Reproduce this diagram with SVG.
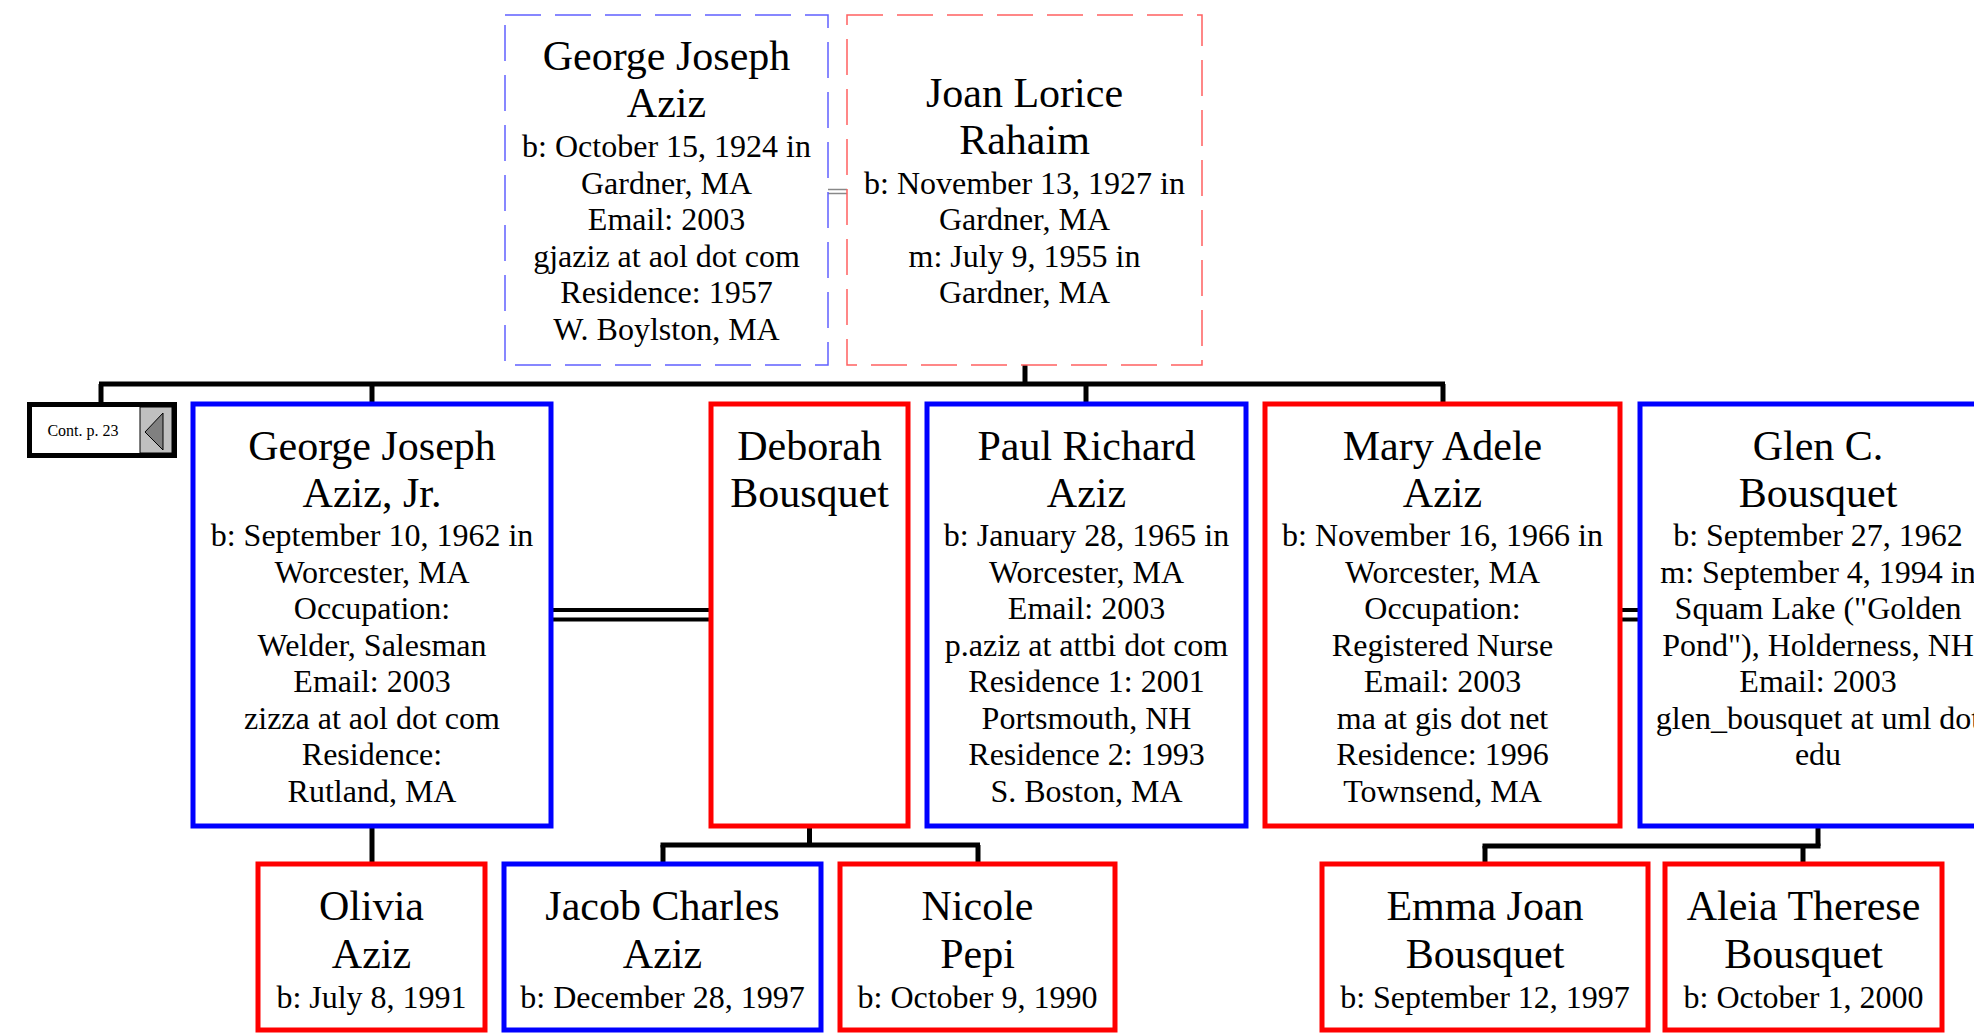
<svg xmlns="http://www.w3.org/2000/svg" width="1974" height="1033" viewBox="0 0 1974 1033">
<style>
text{font-family:"Liberation Serif","Times New Roman",serif;fill:#000;text-anchor:middle}
.n{font-size:42px}
.d{font-size:32px}
.m{fill:#fff;stroke:#0000ff;stroke-width:5}
.f{fill:#fff;stroke:#ff0000;stroke-width:5}
.dm{fill:#fff;stroke:#6060ff;stroke-width:1.5;stroke-dasharray:36 14}
.df{fill:#fff;stroke:#ff6060;stroke-width:1.5;stroke-dasharray:36 14}
.c{fill:none;stroke:#000;stroke-width:5}
.mar{fill:none;stroke:#000;stroke-width:4}
.mar0{fill:none;stroke:#888;stroke-width:1.5}
</style>
<rect width="1974" height="1033" fill="#fff"/>
<g id="connectors">
<line class="mar0" x1="828" y1="189.5" x2="847" y2="189.5"/>
<line class="mar0" x1="828" y1="193.5" x2="847" y2="193.5"/>
<polyline class="c" points="1025,365 1025,384"/>
<line class="c" x1="99" y1="384" x2="1445" y2="384"/>
<line class="c" x1="101" y1="384" x2="101" y2="402"/>
<line class="c" x1="372" y1="384" x2="372" y2="404"/>
<line class="c" x1="1086" y1="384" x2="1086" y2="404"/>
<line class="c" x1="1443" y1="384" x2="1443" y2="404"/>
<line class="mar" x1="551" y1="610" x2="711" y2="610"/>
<line class="mar" x1="551" y1="619.5" x2="711" y2="619.5"/>
<line class="mar" x1="1620" y1="610" x2="1640" y2="610"/>
<line class="mar" x1="1620" y1="619.5" x2="1640" y2="619.5"/>
<line class="c" x1="372" y1="826" x2="372" y2="864"/>
<polyline class="c" points="809.5,826 809.5,845"/>
<line class="c" x1="660.5" y1="845" x2="980" y2="845"/>
<line class="c" x1="663" y1="845" x2="663" y2="864"/>
<line class="c" x1="978" y1="845" x2="978" y2="864"/>
<polyline class="c" points="1818,826 1818,846"/>
<line class="c" x1="1482.5" y1="846" x2="1820.5" y2="846"/>
<line class="c" x1="1485" y1="846" x2="1485" y2="864"/>
<line class="c" x1="1803" y1="846" x2="1803" y2="864"/>
</g>
<g id="george-sr">
<rect class="dm" x="505" y="15" width="323" height="350"/>
<text><tspan class="n" x="666.5" y="70">George Joseph</tspan><tspan class="n" x="666.5" y="117">Aziz</tspan><tspan class="d" x="666.5" y="157">b: October 15, 1924 in</tspan><tspan class="d" x="666.5" y="193.5">Gardner, MA</tspan><tspan class="d" x="666.5" y="230">Email: 2003</tspan><tspan class="d" x="666.5" y="266.5">gjaziz at aol dot com</tspan><tspan class="d" x="666.5" y="303">Residence: 1957</tspan><tspan class="d" x="666.5" y="339.5">W. Boylston, MA</tspan></text>
</g>
<g id="joan">
<rect class="df" x="847" y="15" width="355" height="350"/>
<text><tspan class="n" x="1024.5" y="107">Joan Lorice</tspan><tspan class="n" x="1024.5" y="154">Rahaim</tspan><tspan class="d" x="1024.5" y="193.5">b: November 13, 1927 in</tspan><tspan class="d" x="1024.5" y="230">Gardner, MA</tspan><tspan class="d" x="1024.5" y="266.5">m: July 9, 1955 in</tspan><tspan class="d" x="1024.5" y="303">Gardner, MA</tspan></text>
</g>
<g id="cont">
<rect x="29.5" y="404.5" width="145" height="51" fill="#fff" stroke="#000" stroke-width="5"/>
<rect x="140" y="407" width="32" height="46" fill="#c0c0c0" stroke="#000" stroke-width="1"/>
<polygon points="145,432 163,413 163,450" fill="#808080" stroke="#000" stroke-width="1"/>
<text x="83" y="436" style="font-size:16px">Cont. p. 23</text>
</g>
<g id="george-jr">
<rect class="m" x="193" y="404" width="358" height="422"/>
<text><tspan class="n" x="372" y="460">George Joseph</tspan><tspan class="n" x="372" y="507">Aziz, Jr.</tspan><tspan class="d" x="372" y="546">b: September 10, 1962 in</tspan><tspan class="d" x="372" y="582.5">Worcester, MA</tspan><tspan class="d" x="372" y="619">Occupation:</tspan><tspan class="d" x="372" y="655.5">Welder, Salesman</tspan><tspan class="d" x="372" y="692">Email: 2003</tspan><tspan class="d" x="372" y="728.5">zizza at aol dot com</tspan><tspan class="d" x="372" y="765">Residence:</tspan><tspan class="d" x="372" y="801.5">Rutland, MA</tspan></text>
</g>
<g id="deborah">
<rect class="f" x="711" y="404" width="197" height="422"/>
<text><tspan class="n" x="809.5" y="460">Deborah</tspan><tspan class="n" x="809.5" y="507">Bousquet</tspan></text>
</g>
<g id="paul">
<rect class="m" x="927" y="404" width="319" height="422"/>
<text><tspan class="n" x="1086.5" y="460">Paul Richard</tspan><tspan class="n" x="1086.5" y="507">Aziz</tspan><tspan class="d" x="1086.5" y="546">b: January 28, 1965 in</tspan><tspan class="d" x="1086.5" y="582.5">Worcester, MA</tspan><tspan class="d" x="1086.5" y="619">Email: 2003</tspan><tspan class="d" x="1086.5" y="655.5">p.aziz at attbi dot com</tspan><tspan class="d" x="1086.5" y="692">Residence 1: 2001</tspan><tspan class="d" x="1086.5" y="728.5">Portsmouth, NH</tspan><tspan class="d" x="1086.5" y="765">Residence 2: 1993</tspan><tspan class="d" x="1086.5" y="801.5">S. Boston, MA</tspan></text>
</g>
<g id="mary">
<rect class="f" x="1265" y="404" width="355" height="422"/>
<text><tspan class="n" x="1442.5" y="460">Mary Adele</tspan><tspan class="n" x="1442.5" y="507">Aziz</tspan><tspan class="d" x="1442.5" y="546">b: November 16, 1966 in</tspan><tspan class="d" x="1442.5" y="582.5">Worcester, MA</tspan><tspan class="d" x="1442.5" y="619">Occupation:</tspan><tspan class="d" x="1442.5" y="655.5">Registered Nurse</tspan><tspan class="d" x="1442.5" y="692">Email: 2003</tspan><tspan class="d" x="1442.5" y="728.5">ma at gis dot net</tspan><tspan class="d" x="1442.5" y="765">Residence: 1996</tspan><tspan class="d" x="1442.5" y="801.5">Townsend, MA</tspan></text>
</g>
<g id="glen">
<rect class="m" x="1640" y="404" width="356" height="422"/>
<text><tspan class="n" x="1818" y="460">Glen C.</tspan><tspan class="n" x="1818" y="507">Bousquet</tspan><tspan class="d" x="1818" y="546">b: September 27, 1962</tspan><tspan class="d" x="1818" y="582.5">m: September 4, 1994 in</tspan><tspan class="d" x="1818" y="619">Squam Lake ("Golden</tspan><tspan class="d" x="1818" y="655.5">Pond"), Holderness, NH</tspan><tspan class="d" x="1818" y="692">Email: 2003</tspan><tspan class="d" x="1818" y="728.5">glen_bousquet at uml dot</tspan><tspan class="d" x="1818" y="765">edu</tspan></text>
</g>
<g id="olivia">
<rect class="f" x="258" y="864" width="227" height="166"/>
<text><tspan class="n" x="371.5" y="920">Olivia</tspan><tspan class="n" x="371.5" y="968">Aziz</tspan><tspan class="d" x="371.5" y="1008">b: July 8, 1991</tspan></text>
</g>
<g id="jacob">
<rect class="m" x="504" y="864" width="317" height="166"/>
<text><tspan class="n" x="662.5" y="920">Jacob Charles</tspan><tspan class="n" x="662.5" y="968">Aziz</tspan><tspan class="d" x="662.5" y="1008">b: December 28, 1997</tspan></text>
</g>
<g id="nicole">
<rect class="f" x="840" y="864" width="275" height="166"/>
<text><tspan class="n" x="977.5" y="920">Nicole</tspan><tspan class="n" x="977.5" y="968">Pepi</tspan><tspan class="d" x="977.5" y="1008">b: October 9, 1990</tspan></text>
</g>
<g id="emma">
<rect class="f" x="1322" y="864" width="326" height="166"/>
<text><tspan class="n" x="1485" y="920">Emma Joan</tspan><tspan class="n" x="1485" y="968">Bousquet</tspan><tspan class="d" x="1485" y="1008">b: September 12, 1997</tspan></text>
</g>
<g id="aleia">
<rect class="f" x="1665" y="864" width="277" height="166"/>
<text><tspan class="n" x="1803.5" y="920">Aleia Therese</tspan><tspan class="n" x="1803.5" y="968">Bousquet</tspan><tspan class="d" x="1803.5" y="1008">b: October 1, 2000</tspan></text>
</g>
</svg>
